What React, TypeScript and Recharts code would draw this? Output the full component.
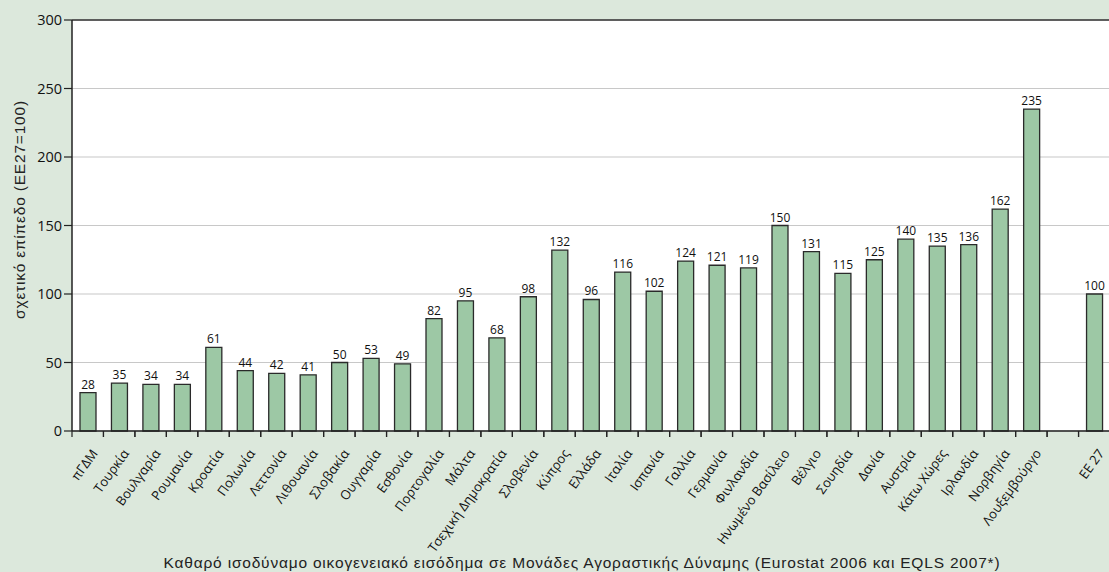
import React from 'react';
import { BarChart, Bar, XAxis, YAxis, CartesianGrid, LabelList, ReferenceLine } from 'recharts';

const categories = ['πΓΔΜ','Τουρκία','Βουλγαρία','Ρουμανία','Κροατία','Πολωνία','Λεττονία','Λιθουανία','Σλοβακία','Ουγγαρία','Εσθονία','Πορτογαλία','Μάλτα','Τσεχική Δημοκρατία','Σλοβενία','Κύπρος','Ελλάδα','Ιταλία','Ισπανία','Γαλλία','Γερμανία','Φινλανδία','Ηνωμένο Βασίλειο','Βέλγιο','Σουηδία','Δανία','Αυστρία','Κάτω Χώρες','Ιρλανδία','Νορβηγία','Λουξεμβούργο','','ΕΕ 27'];
const values: (number | null)[] = [28,35,34,34,61,44,42,41,50,53,49,82,95,68,98,132,96,116,102,124,121,119,150,131,115,125,140,135,136,162,235,null,100];
const yTicks = [0,50,100,150,200,250,300];

const data = categories.map((c, i) => ({ name: c, value: values[i] }));

const FONT = '"Open Sans", "DejaVu Sans", sans-serif';
const SANS = '"Liberation Sans", Arial, sans-serif';

const CatTick = (props: any) => {
  const { x, y, payload } = props;
  const half = payload && payload.offset ? payload.offset : 15.7;
  const cx = Number(x);
  const cy = Number(y);
  return (
    <g>
      <line x1={cx - half} y1={cy - 8} x2={cx - half} y2={cy - 2} stroke="#222" strokeWidth={1.2} />
      <line x1={cx + half} y1={cy - 8} x2={cx + half} y2={cy - 2} stroke="#222" strokeWidth={1.2} />
      <g transform={`translate(${cx + 3}, ${cy + 9}) rotate(-54)`}>
        <text x={0} y={0} dy="0.72em" textAnchor="end" fontFamily={FONT} fontSize={13} fill="#111">
          {payload.value}
        </text>
      </g>
    </g>
  );
};

export default function App() {
  return (
    <div style={{ position: 'fixed', left: 0, top: 0, width: 1109, height: 572, background: '#dce8dc' }}>
      <BarChart
        width={1109}
        height={572}
        data={data}
        margin={{ top: 20, right: -1, bottom: 0, left: 0 }}
        barSize={16}
      >
        <CartesianGrid vertical={false} stroke="#c8c8c8" strokeWidth={1.2} fill="#ffffff" />
        <YAxis
          domain={[0, 300]}
          ticks={yTicks}
          width={72}
          interval={0}
          tick={{ fontFamily: FONT, fontSize: 14.5, fill: '#111' }}
          tickLine={{ stroke: '#222', strokeWidth: 1.2 }}
          tickSize={8}
          axisLine={{ stroke: '#222', strokeWidth: 1.5 }}
          label={{
            value: 'σχετικό επίπεδο (ΕΕ27=100)',
            angle: -90,
            position: 'insideLeft',
            offset: 19,
            dy: -16,
            style: { textAnchor: 'middle', fontFamily: SANS, fontSize: 15.5, letterSpacing: 0.8, fill: '#222' },
          }}
        />
        <XAxis
          dataKey="name"
          interval={0}
          height={141}
          tick={<CatTick />}
          tickLine={false}
          axisLine={{ stroke: '#222', strokeWidth: 1.5 }}
          label={{
            value: 'Καθαρό ισοδύναμο οικογενειακό εισόδημα σε Μονάδες Αγοραστικής Δύναμης (Eurostat 2006 και EQLS 2007*)',
            position: 'insideBottom',
            offset: 4,
            dx: -9,
            style: { fontFamily: SANS, fontSize: 15.5, letterSpacing: 0.8, fill: '#222' },
          }}
        />
        <ReferenceLine y={300} stroke="#333" strokeWidth={1.5} />
        <Bar dataKey="value" fill="#9dc8a5" stroke="#2a2a2a" strokeWidth={1.3} isAnimationActive={false}>
          <LabelList dataKey="value" position="top" offset={4} style={{ fontFamily: FONT, fontSize: 12, fill: '#111' }} />
        </Bar>
      </BarChart>
    </div>
  );
}
